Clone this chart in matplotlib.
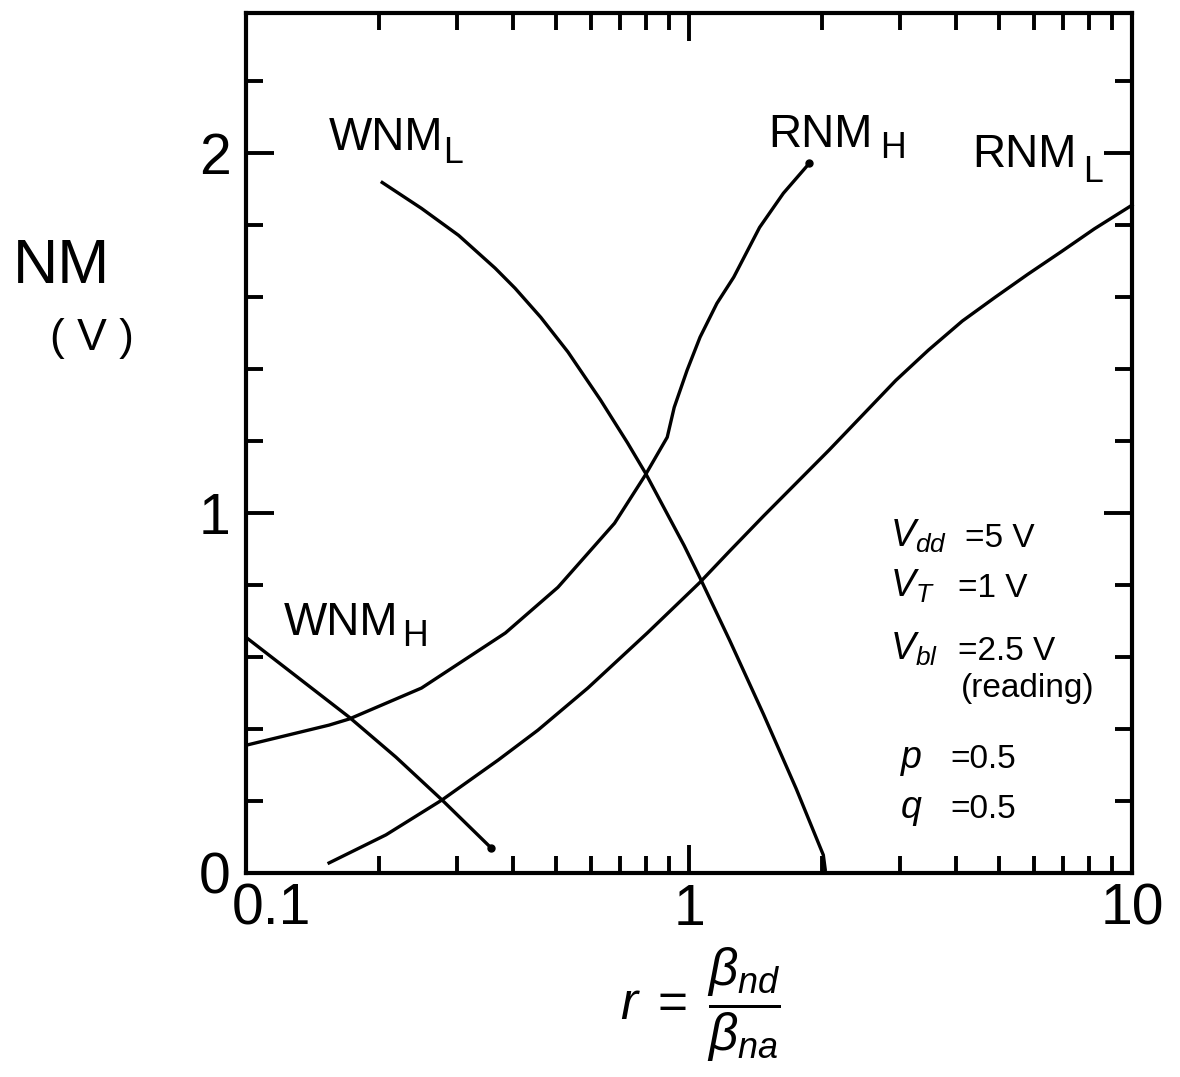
import numpy as np
import matplotlib
matplotlib.use("Agg")
import matplotlib.pyplot as plt
from matplotlib.ticker import LogLocator, MultipleLocator, NullFormatter
from matplotlib.transforms import ScaledTranslation

plt.rcParams['font.family'] = 'Liberation Sans'
plt.rcParams['mathtext.fontset'] = 'custom'
plt.rcParams['mathtext.rm'] = 'Liberation Sans'
plt.rcParams['mathtext.it'] = 'Liberation Sans:italic'
plt.rcParams['mathtext.bf'] = 'Liberation Sans:bold'

# values (r = beta_nd / beta_na, NM in volts)
r_wnm_l = [0.203, 0.249, 0.302, 0.365, 0.405, 0.463, 0.533, 0.631, 0.726, 0.797, 0.975, 1.059, 1.236, 1.473, 1.746, 2.01, 2.03]
v_wnm_l = [1.919, 1.847, 1.772, 1.681, 1.625, 1.544, 1.448, 1.315, 1.196, 1.112, 0.910, 0.820, 0.646, 0.441, 0.234, 0.05, 0.01]

r_rnm_h = [0.1, 0.154, 0.171, 0.249, 0.385, 0.506, 0.679, 0.797, 0.893, 0.926, 0.990, 1.059, 1.156, 1.262, 1.443, 1.633, 1.868]
v_rnm_h = [0.355, 0.411, 0.428, 0.514, 0.667, 0.794, 0.972, 1.106, 1.211, 1.294, 1.397, 1.489, 1.583, 1.656, 1.794, 1.889, 1.972]

r_rnm_l = [0.154, 0.207, 0.277, 0.371, 0.456, 0.591, 0.805, 1.059, 1.236, 1.473, 2.07, 2.93, 3.47, 4.14, 4.91, 5.82, 6.93, 8.22, 10.0]
v_rnm_l = [0.028, 0.106, 0.203, 0.314, 0.397, 0.514, 0.667, 0.808, 0.895, 0.992, 1.175, 1.369, 1.453, 1.534, 1.600, 1.664, 1.727, 1.790, 1.856]

r_wnm_h = [0.1, 0.171, 0.218, 0.277, 0.358]
v_wnm_h = [0.655, 0.433, 0.322, 0.203, 0.069]

x_ticks = [0.1, 1, 10]
x_ticklabels = ['0.1', '1', '10']
y_ticks = [0, 1, 2]
y_ticklabels = ['0', '1', '2']

params = [
	(r'$V_{dd}$', '=5 V'),
	(r'$V_{T}$', '=1 V'),
	(r'$V_{bl}$', '=2.5 V'),
]

W, H = 1180, 1077
fig = plt.figure(figsize=(W / 100, H / 100), dpi=100)
ax = fig.add_axes([246 / W, (H - 873) / H, (1132 - 246) / W, (873 - 13) / H])

lw = 2.4
ax.plot(r_wnm_l, v_wnm_l, color='black', lw=lw)
ax.plot(r_rnm_h, v_rnm_h, color='black', lw=lw)
ax.plot(r_rnm_l, v_rnm_l, color='black', lw=lw, clip_on=False)
ax.plot(r_wnm_h, v_wnm_h, color='black', lw=lw)
# little dots at the ends of two curves
ax.plot(r_rnm_h[-1], v_rnm_h[-1], 'o', color='black', ms=5)
ax.plot(r_wnm_h[-1], v_wnm_h[-1], 'o', color='black', ms=5)

ax.set_xscale('log')
ax.set_xlim(0.1, 10)
ax.set_ylim(0, 2.39)

ax.set_xticks(x_ticks)
ax.set_xticklabels(x_ticklabels)
ax.xaxis.set_minor_locator(LogLocator(base=10, subs=np.arange(2, 10)))
ax.xaxis.set_minor_formatter(NullFormatter())
ax.set_yticks(y_ticks)
ax.set_yticklabels(y_ticklabels)
ax.yaxis.set_minor_locator(MultipleLocator(0.2))

for s in ax.spines.values():
	s.set_linewidth(3)

ax.tick_params(which='major', direction='in', length=20, width=2.8, top=True, right=True, labelsize=41)
ax.tick_params(which='minor', direction='in', length=12, width=2.8, top=True, right=True)
ax.tick_params(axis='y', which='major', pad=11)
ax.tick_params(axis='x', which='major', pad=7)

# the 0.1 label sits a bit right of its tick
lab0 = ax.get_xticklabels()[0]
lab0.set_transform(lab0.get_transform() + ScaledTranslation(0.25, 0, fig.dpi_scale_trans))

# curve labels, subscript drawn as its own text just after the main one
fs = 33
def curve_label(x, y, main, sub, dx, dy):
	t = ax.text(x, y, main, fontsize=fs, va='baseline')
	ax.annotate(sub, xy=(1, 0), xycoords=t, xytext=(dx, dy), textcoords='offset pixels',
				fontsize=fs * 0.78, va='baseline')

curve_label(0.154, 2.008, 'WNM', 'L', 0, -3)
curve_label(1.51, 2.017, 'RNM', 'H', 7, -1)
curve_label(4.36, 1.961, 'RNM', 'L', 6, -5)
curve_label(0.122, 0.661, 'WNM', 'H', 3, -1)

# parameter block
ys = [0.906, 0.767, 0.592]
xs = [4.19, 4.04, 4.04]
for (sym, val), y, xv in zip(params, ys, xs):
	ax.text(2.85, y, sym, fontsize=27, va='baseline')
	ax.text(xv, y, val, fontsize=24, va='baseline')
ax.text(4.1, 0.489, '(reading)', fontsize=24, va='baseline')
ax.text(3.0, 0.292, r'$p$', fontsize=27, va='baseline')
ax.text(3.9, 0.292, '=0.5', fontsize=24, va='baseline')
ax.text(3.0, 0.153, r'$q$', fontsize=27, va='baseline')
ax.text(3.9, 0.153, '=0.5', fontsize=24, va='baseline')

# axis titles
fig.text(13 / W, (H - 283) / H, 'NM', fontsize=45, va='baseline', ha='left')
fig.text(50 / W, (H - 350) / H, '( V )', fontsize=32, va='baseline', ha='left')
fig.text(700 / W, (H - 1005) / H, r'$r\;=\;\dfrac{\beta_{nd}}{\beta_{na}}$', fontsize=37, va='center', ha='center')

plt.savefig('out.png', dpi=100)
